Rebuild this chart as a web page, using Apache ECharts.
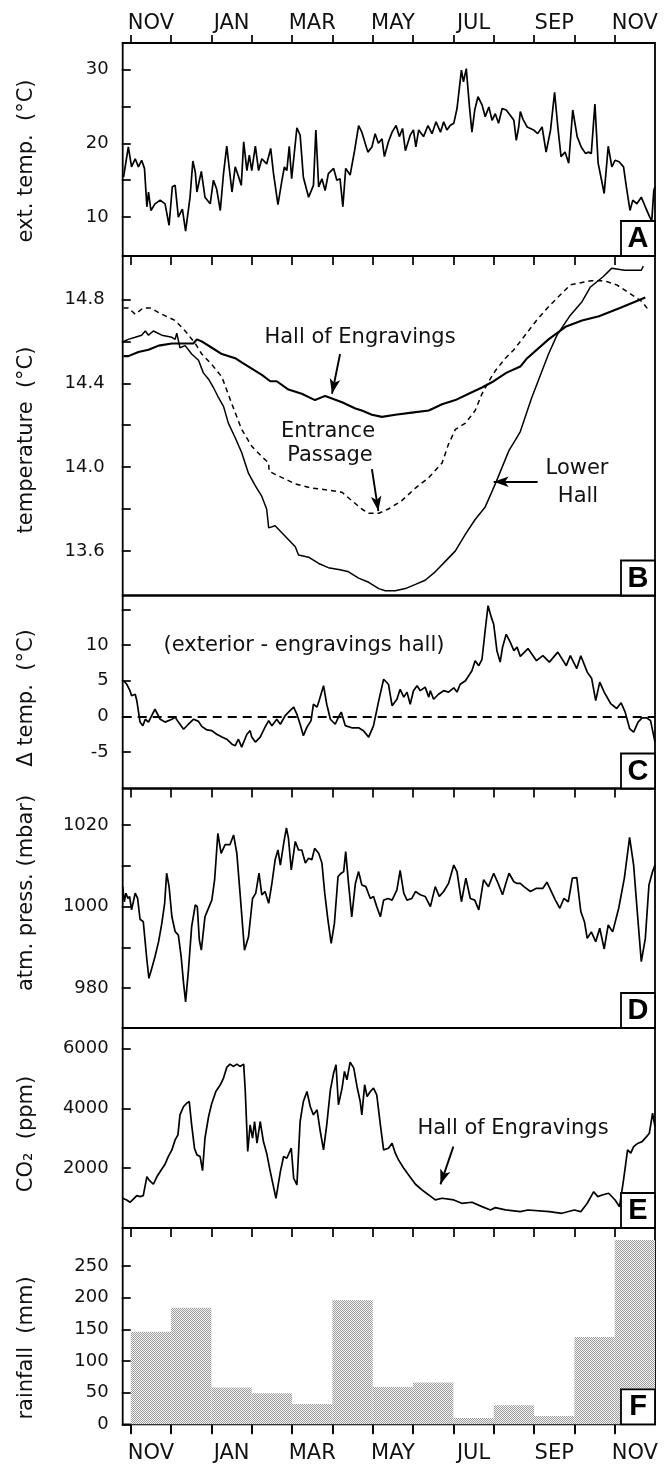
<!DOCTYPE html>
<html>
<head>
<meta charset="utf-8">
<title>Cave climate record</title>
<script src="https://cdn.jsdelivr.net/npm/echarts@6.0.0/dist/echarts.min.js"></script>
<style>
html, body { margin: 0; padding: 0; background: #fff; }
#chart { width: 664px; height: 1468px; }
</style>
</head>
<body>
<div id="chart"></div>
<script>
// x is in months counted from 1 Nov (0) to 1 Dec of the next year (13)
var monthTicks = [0, 1, 2, 3, 4, 5, 6, 7, 8, 9, 10, 11, 12];
var monthLabelPos = [0.5, 2.5, 4.5, 6.5, 8.5, 10.5, 12.5];
var monthNames = ['NOV', 'JAN', 'MAR', 'MAY', 'JUL', 'SEP', 'NOV'];

// A: exterior temperature (°C)
var extTemp = [[-0.18,15.4],[-0.06,19.5],[0.02,16.8],[0.11,17.9],[0.19,16.8],[0.27,17.7],[0.34,16.6],[0.40,11.4],[0.44,13.4],[0.50,10.9],[0.60,11.8],[0.73,12.3],[0.85,11.8],[0.95,8.9],[1.03,14.1],[1.10,14.3],[1.18,10.0],[1.28,11.1],[1.36,8.1],[1.47,12.7],[1.54,17.6],[1.60,16.1],[1.64,13.4],[1.75,16.2],[1.84,12.7],[1.97,11.8],[2.05,15.0],[2.13,13.8],[2.22,10.9],[2.30,15.9],[2.38,19.6],[2.51,13.4],[2.59,16.8],[2.66,15.7],[2.74,14.3],[2.80,20.2],[2.88,16.3],[2.94,18.4],[3.00,16.3],[3.09,19.6],[3.17,16.3],[3.25,17.9],[3.37,17.2],[3.47,19.3],[3.54,15.9],[3.65,11.7],[3.75,15.0],[3.81,16.8],[3.87,16.3],[3.93,19.6],[3.99,15.2],[4.12,22.1],[4.20,21.1],[4.28,15.4],[4.41,12.7],[4.53,14.3],[4.59,21.8],[4.66,14.1],[4.74,15.2],[4.82,13.6],[4.90,15.9],[5.03,16.6],[5.11,15.0],[5.19,15.2],[5.26,11.4],[5.33,16.6],[5.44,15.7],[5.55,19.0],[5.65,22.4],[5.73,21.5],[5.88,18.8],[5.98,19.5],[6.06,21.3],[6.14,20.0],[6.23,20.6],[6.29,18.2],[6.39,20.2],[6.48,21.5],[6.58,22.4],[6.66,20.9],[6.74,22.0],[6.81,19.0],[6.93,21.1],[7.01,21.8],[7.07,19.5],[7.14,21.8],[7.26,20.9],[7.37,22.4],[7.47,21.3],[7.57,22.9],[7.68,21.5],[7.76,22.9],[7.84,21.8],[7.92,22.4],[8.01,22.7],[8.09,24.7],[8.20,29.9],[8.25,28.3],[8.32,30.1],[8.40,24.9],[8.46,21.5],[8.53,24.5],[8.61,26.3],[8.71,25.2],[8.79,23.6],[8.88,24.9],[8.96,23.1],[9.04,24.0],[9.12,22.7],[9.21,24.7],[9.31,24.5],[9.41,23.8],[9.50,23.1],[9.56,20.4],[9.62,22.2],[9.66,24.3],[9.73,23.2],[9.83,22.2],[9.99,21.8],[10.09,21.3],[10.20,22.2],[10.30,18.8],[10.41,21.8],[10.51,26.9],[10.59,22.2],[10.67,18.2],[10.77,18.8],[10.86,17.3],[10.96,24.5],[11.07,20.9],[11.17,19.5],[11.28,18.6],[11.35,18.8],[11.42,18.6],[11.51,25.3],[11.59,17.3],[11.66,15.4],[11.74,13.2],[11.84,19.6],[11.93,16.8],[12.01,17.7],[12.11,17.5],[12.22,16.8],[12.29,14.1],[12.38,10.9],[12.45,12.3],[12.55,11.8],[12.66,12.7],[12.76,11.4],[12.87,10.0],[12.92,9.5],[12.97,13.6],[13.00,14.1]];

// B: cave temperatures (°C)
var hallEngravings = [[-0.18,14.53],[-0.06,14.53],[0.19,14.55],[0.44,14.56],[0.69,14.58],[1.02,14.59],[1.35,14.59],[1.55,14.59],[1.64,14.61],[1.76,14.60],[2.01,14.57],[2.26,14.54],[2.59,14.52],[2.75,14.50],[3.00,14.47],[3.25,14.44],[3.46,14.41],[3.62,14.41],[3.91,14.37],[4.24,14.35],[4.57,14.32],[4.82,14.34],[5.24,14.31],[5.57,14.28],[5.73,14.27],[5.98,14.25],[6.23,14.24],[6.56,14.25],[6.97,14.26],[7.39,14.27],[7.72,14.30],[8.05,14.32],[8.38,14.35],[8.71,14.38],[9.00,14.41],[9.31,14.45],[9.66,14.48],[9.83,14.52],[10.36,14.61],[10.78,14.67],[11.19,14.70],[11.61,14.72],[12.13,14.76],[12.76,14.81]];
var lowerHall = [[-0.18,14.60],[-0.06,14.61],[0.11,14.62],[0.27,14.63],[0.36,14.65],[0.44,14.63],[0.56,14.65],[0.77,14.63],[1.02,14.62],[1.10,14.61],[1.14,14.64],[1.22,14.57],[1.35,14.58],[1.51,14.54],[1.68,14.51],[1.80,14.45],[1.93,14.42],[2.05,14.38],[2.18,14.33],[2.30,14.29],[2.42,14.21],[2.59,14.14],[2.75,14.07],[2.92,13.97],[3.09,13.91],[3.25,13.86],[3.37,13.80],[3.42,13.71],[3.58,13.72],[3.83,13.67],[4.08,13.62],[4.16,13.58],[4.41,13.57],[4.66,13.54],[4.90,13.52],[5.19,13.51],[5.40,13.50],[5.65,13.47],[5.90,13.45],[6.15,13.42],[6.31,13.41],[6.56,13.41],[6.81,13.42],[7.06,13.44],[7.30,13.46],[7.55,13.50],[7.80,13.55],[8.05,13.60],[8.30,13.68],[8.54,13.75],[8.79,13.81],[9.04,13.92],[9.21,14.00],[9.38,14.08],[9.54,14.13],[9.66,14.17],[9.94,14.33],[10.36,14.54],[10.57,14.63],[10.88,14.72],[11.19,14.79],[11.40,14.86],[11.72,14.91],[11.93,14.95],[12.24,14.94],[12.66,14.94],[12.71,14.96]];
var entrancePassage = [[-0.18,14.76],[-0.06,14.76],[0.11,14.73],[0.31,14.76],[0.48,14.76],[0.77,14.73],[1.10,14.70],[1.35,14.65],[1.60,14.59],[1.76,14.54],[2.01,14.49],[2.26,14.43],[2.51,14.30],[2.75,14.18],[3.00,14.10],[3.25,14.05],[3.42,14.02],[3.43,13.98],[3.75,13.95],[4.08,13.92],[4.49,13.90],[4.90,13.89],[5.24,13.88],[5.48,13.84],[5.73,13.80],[5.90,13.78],[6.15,13.78],[6.39,13.80],[6.72,13.84],[7.06,13.90],[7.39,13.95],[7.72,14.02],[7.88,14.11],[8.05,14.18],[8.30,14.21],[8.54,14.27],[8.71,14.35],[8.88,14.41],[9.04,14.46],[9.29,14.52],[9.50,14.56],[9.66,14.60],[10.06,14.70],[10.38,14.77],[10.90,14.87],[11.42,14.89],[11.74,14.89],[12.05,14.87],[12.37,14.83],[12.68,14.79],[12.84,14.75]];

// C: exterior minus engravings hall (°C)
var deltaTemp = [[-0.18,5.0],[-0.10,4.5],[-0.02,3.6],[0.02,2.9],[0.11,3.1],[0.15,2.2],[0.23,-0.8],[0.30,-1.3],[0.36,-0.4],[0.44,-0.8],[0.50,-0.1],[0.60,1.0],[0.73,-0.4],[0.85,-0.8],[1.02,-0.4],[1.10,-0.1],[1.18,-0.8],[1.31,-1.8],[1.43,-1.1],[1.56,-0.4],[1.68,-0.7],[1.76,-1.4],[1.89,-1.9],[2.01,-2.0],[2.13,-2.5],[2.26,-2.9],[2.38,-3.2],[2.51,-3.9],[2.59,-4.1],[2.67,-3.2],[2.75,-4.3],[2.88,-2.5],[2.96,-2.0],[3.00,-2.9],[3.09,-3.6],[3.21,-2.9],[3.33,-1.5],[3.42,-0.6],[3.50,-1.3],[3.62,-0.4],[3.71,-1.1],[3.83,0.1],[3.95,0.8],[4.04,1.3],[4.12,0.3],[4.20,-1.1],[4.28,-2.7],[4.37,-1.5],[4.47,-0.6],[4.53,1.7],[4.62,1.3],[4.67,2.2],[4.78,4.3],[4.86,1.7],[4.95,-0.4],[5.07,-1.1],[5.15,-0.1],[5.22,0.6],[5.32,-1.3],[5.48,-1.6],[5.65,-1.6],[5.77,-2.0],[5.90,-2.9],[6.02,-1.3],[6.15,2.2],[6.27,5.2],[6.39,4.5],[6.48,1.5],[6.60,2.4],[6.68,3.8],[6.77,2.7],[6.85,3.4],[6.93,1.7],[7.01,3.6],[7.10,4.3],[7.18,3.6],[7.30,4.1],[7.39,2.7],[7.43,3.6],[7.51,2.4],[7.63,3.1],[7.76,3.6],[7.88,3.4],[8.01,4.0],[8.09,3.4],[8.17,4.5],[8.30,5.0],[8.38,5.7],[8.46,6.4],[8.54,7.8],[8.63,7.1],[8.71,8.0],[8.79,12.1],[8.86,15.5],[8.94,13.9],[9.00,12.9],[9.08,9.2],[9.16,7.6],[9.22,9.7],[9.31,11.5],[9.41,10.4],[9.50,9.2],[9.58,9.7],[9.66,8.4],[9.85,9.5],[10.06,7.8],[10.22,8.5],[10.38,7.6],[10.59,9.0],[10.80,7.1],[10.90,8.5],[11.06,6.7],[11.16,8.5],[11.32,6.2],[11.43,5.3],[11.53,2.2],[11.63,4.8],[11.74,3.4],[11.90,1.8],[12.05,1.1],[12.16,1.9],[12.26,0.6],[12.37,-1.7],[12.47,-2.2],[12.58,-0.8],[12.68,-0.2],[12.79,-0.2],[12.89,-0.6],[13.00,-3.6]];

// D: atmospheric pressure (mbar)
var pressure = [[-0.20,1004.9],[-0.16,1001.2],[-0.12,1003.3],[-0.07,1002.0],[-0.03,1002.5],[0.02,999.2],[0.11,1003.3],[0.17,1002.0],[0.23,996.9],[0.31,996.3],[0.40,986.9],[0.45,982.4],[0.52,984.8],[0.60,987.7],[0.69,991.4],[0.77,995.9],[0.84,1000.8],[0.89,1008.2],[0.95,1004.9],[1.02,997.5],[1.10,993.9],[1.18,993.0],[1.25,987.7],[1.31,981.1],[1.36,976.6],[1.43,984.4],[1.51,995.1],[1.60,1000.4],[1.65,1000.0],[1.70,991.8],[1.75,989.3],[1.84,997.5],[1.91,999.2],[2.01,1001.6],[2.08,1006.6],[2.16,1018.0],[2.24,1013.1],[2.34,1015.2],[2.46,1015.2],[2.55,1017.6],[2.63,1013.1],[2.71,1003.3],[2.82,989.3],[2.92,992.6],[3.02,1002.0],[3.10,1003.3],[3.18,1008.2],[3.25,1002.9],[3.33,1003.7],[3.42,1000.8],[3.50,1005.7],[3.58,1011.5],[3.65,1013.9],[3.71,1010.2],[3.80,1016.0],[3.86,1019.3],[3.91,1016.8],[3.98,1009.0],[4.08,1016.0],[4.16,1013.9],[4.24,1013.9],[4.33,1010.7],[4.41,1011.9],[4.49,1011.5],[4.56,1014.3],[4.66,1013.1],[4.74,1010.7],[4.81,1003.3],[4.89,996.7],[4.97,991.0],[5.05,995.9],[5.14,1007.4],[5.22,1008.2],[5.28,1008.6],[5.33,1013.5],[5.40,1005.7],[5.48,997.5],[5.57,1005.7],[5.65,1008.6],[5.73,1005.3],[5.83,1004.9],[5.94,1002.0],[6.02,1002.5],[6.10,1000.0],[6.19,997.5],[6.27,1001.6],[6.38,1002.0],[6.48,1001.6],[6.60,1004.1],[6.68,1008.9],[6.77,1003.3],[6.85,1001.6],[6.97,1002.0],[7.06,1003.7],[7.18,1002.9],[7.30,1002.5],[7.43,1000.0],[7.55,1004.9],[7.65,1002.5],[7.76,1003.7],[7.88,1005.7],[8.01,1010.2],[8.09,1008.6],[8.20,1001.2],[8.31,1007.0],[8.42,1002.0],[8.53,1001.6],[8.63,999.2],[8.75,1006.6],[8.87,1004.9],[9.00,1008.2],[9.11,1005.7],[9.22,1002.9],[9.30,1005.7],[9.38,1008.2],[9.50,1006.1],[9.58,1005.7],[9.66,1005.7],[9.75,1004.9],[9.91,1003.7],[10.06,1004.5],[10.22,1004.5],[10.32,1006.0],[10.43,1003.7],[10.53,1001.6],[10.64,999.6],[10.74,1002.0],[10.85,1001.2],[10.95,1007.0],[11.06,1007.1],[11.16,998.8],[11.25,996.3],[11.32,992.2],[11.42,993.8],[11.53,991.4],[11.63,994.7],[11.74,989.6],[11.84,995.5],[11.95,993.8],[12.10,999.6],[12.24,1007.0],[12.37,1017.0],[12.47,1010.2],[12.56,998.8],[12.66,986.5],[12.76,992.2],[12.85,1005.3],[12.94,1008.6],[13.00,1010.2]];

// E: CO2 in the Hall of Engravings (ppm)
var co2 = [[-0.20,995],[-0.10,939],[-0.02,861],[0.07,972],[0.15,1084],[0.23,1050],[0.31,1084],[0.40,1721],[0.45,1609],[0.56,1464],[0.65,1721],[0.73,1888],[0.85,2134],[0.93,2391],[1.02,2614],[1.10,2949],[1.17,3117],[1.22,3787],[1.31,4067],[1.39,4178],[1.45,4234],[1.51,3452],[1.58,2670],[1.64,2447],[1.72,2391],[1.78,1922],[1.84,3005],[1.93,3731],[2.01,4178],[2.11,4569],[2.22,4793],[2.30,5016],[2.38,5373],[2.46,5485],[2.55,5407],[2.63,5485],[2.71,5407],[2.80,5485],[2.84,4569],[2.90,2559],[2.96,3452],[3.02,3005],[3.07,3564],[3.13,2838],[3.21,3564],[3.29,2894],[3.37,2503],[3.46,1888],[3.60,995],[3.71,1888],[3.79,2391],[3.87,2335],[3.98,2670],[4.04,1665],[4.12,1441],[4.20,3564],[4.28,4234],[4.37,4569],[4.45,4067],[4.53,3787],[4.62,3955],[4.70,3229],[4.78,2614],[4.86,3452],[4.95,4625],[5.03,5184],[5.09,5463],[5.15,4123],[5.24,4681],[5.30,5240],[5.36,4960],[5.44,5552],[5.53,5351],[5.61,4737],[5.69,4234],[5.73,3787],[5.80,4793],[5.86,4402],[5.94,4569],[6.02,4681],[6.10,4458],[6.19,3452],[6.27,2614],[6.39,2670],[6.48,2838],[6.56,2503],[6.64,2279],[6.77,2000],[6.89,1777],[7.06,1464],[7.22,1274],[7.39,1106],[7.55,939],[7.72,995],[8.01,939],[8.21,827],[8.46,861],[8.71,715],[8.92,604],[9.04,682],[9.29,604],[9.66,548],[9.85,603],[10.38,546],[10.69,492],[11.00,603],[11.16,546],[11.32,828],[11.48,1216],[11.58,1049],[11.69,1106],[11.85,1162],[12.01,938],[12.12,714],[12.22,1608],[12.32,2613],[12.40,2503],[12.47,2724],[12.58,2838],[12.68,2891],[12.79,3059],[12.86,3172],[12.94,3843],[13.00,3394]];

// F: monthly rainfall (mm), one bar per month starting at rainStart
var rainStart = [0, 1, 2, 3, 4, 5, 6, 7, 8, 9, 10, 11, 12];
var rainfall = [146, 184, 58, 49, 32, 196, 59, 66, 10, 30, 13, 138, 291];

var FONT = '"DejaVu Sans", sans-serif';
var INK = '#111';

// panel frames (pixels)
var panels = [
  { top: 43, height: 213 },
  { top: 256, height: 339.5 },
  { top: 595.5, height: 193 },
  { top: 788.5, height: 239.5 },
  { top: 1028, height: 200 },
  { top: 1228, height: 196.3 }
];
var LEFT = 122.7, RIGHT = 9;

var chart = echarts.init(document.getElementById('chart'), null, { renderer: 'canvas' });

// stippled fill for the rainfall bars
var stipple = document.createElement('canvas');
stipple.width = 2; stipple.height = 2;
var sctx = stipple.getContext('2d');
sctx.fillStyle = '#f4f4f4'; sctx.fillRect(0, 0, 2, 2);
sctx.fillStyle = '#9c9c9c'; sctx.fillRect(0, 0, 1, 1); sctx.fillRect(1, 1, 1, 1);

var grids = panels.map(function (p) {
  return {
    left: LEFT, right: RIGHT, top: p.top, height: p.height,
    show: true, borderColor: '#000', borderWidth: 1.8, backgroundColor: 'transparent',
    containLabel: false
  };
});

function xAxis(gridIndex, position, tickInside, tickLen, showTick, withLabels, labelMargin) {
  return {
    type: 'value', gridIndex: gridIndex, position: position,
    min: -0.2, max: 13,
    axisLine: { show: false },
    splitLine: { show: false },
    axisTick: {
      show: showTick, inside: tickInside, length: tickLen,
      customValues: monthTicks,
      lineStyle: { color: '#000', width: 1.7 }
    },
    axisLabel: {
      show: withLabels, margin: labelMargin,
      customValues: monthLabelPos,
      formatter: function (v) { return monthNames[Math.floor(v / 2)]; },
      color: INK, fontSize: 21, fontFamily: FONT
    }
  };
}

function yAxis(gridIndex, min, max, ticks, labels, fmt, margin) {
  return {
    type: 'value', gridIndex: gridIndex, min: min, max: max,
    axisLine: { show: false },
    splitLine: { show: false },
    axisTick: {
      show: true, inside: false, length: 9,
      customValues: ticks,
      lineStyle: { color: '#000', width: 1.7 }
    },
    axisLabel: {
      margin: margin || 14,
      customValues: labels,
      formatter: fmt || function (v) { return String(v); },
      color: INK, fontSize: 18, fontFamily: FONT
    }
  };
}

function lineSeries(data, xi, yi, style, extra) {
  var s = {
    type: 'line', data: data, xAxisIndex: xi, yAxisIndex: yi,
    showSymbol: false, symbol: 'none', smooth: false, clip: true,
    lineStyle: style, silent: true, animation: false
  };
  for (var k in extra) s[k] = extra[k];
  return s;
}

var arrowLine = {
  silent: true, animation: false,
  symbol: ['none', 'arrow'], symbolSize: [8, 15],
  label: { show: false },
  lineStyle: { color: '#000', width: 1.9, type: 'solid' }
};
function arrows(list) {
  var m = {};
  for (var k in arrowLine) m[k] = arrowLine[k];
  m.data = list.map(function (a) { return [{ coord: a[0] }, { coord: a[1] }]; });
  return m;
}

var titles = [
  { text: 'ext. temp.  (°C)', y: 161 },
  { text: 'temperature  (°C)', y: 440 },
  { text: 'Δ temp.  (°C)', y: 698 },
  { text: 'atm. press. (mbar)', y: 893 },
  { text: 'CO₂  (ppm)', y: 1134 },
  { text: 'rainfall  (mm)', y: 1348 }
];
var letters = ['A', 'B', 'C', 'D', 'E', 'F'];

var graphic = [];
titles.forEach(function (t) {
  graphic.push({
    type: 'text', x: 27, y: t.y, rotation: Math.PI / 2, z: 20,
    style: { text: t.text, fill: INK, font: '21px ' + FONT, align: 'center', verticalAlign: 'middle' }
  });
});
panels.forEach(function (p, i) {
  var bottom = p.top + p.height;
  graphic.push({
    type: 'rect', z: 20,
    shape: { x: 621, y: bottom - 35, width: 34, height: 35 },
    style: { fill: '#fff', stroke: '#000', lineWidth: 1.8 }
  });
  graphic.push({
    type: 'text', x: 638, y: bottom - 17, z: 21,
    style: { text: letters[i], fill: '#000', font: 'bold 29px "Liberation Sans", Arial, sans-serif', align: 'center', verticalAlign: 'middle' }
  });
});
function note(text, x, y) {
  graphic.push({
    type: 'text', x: x, y: y, z: 20,
    style: { text: text, fill: INK, font: '21px ' + FONT, align: 'center', verticalAlign: 'middle' }
  });
}
note('Hall of Engravings', 360, 338);
note('Entrance', 328, 432);
note('Passage', 330, 456);
note('Lower', 577, 469);
note('Hall', 578, 497);
note('(exterior - engravings hall)', 304, 646);
note('Hall of Engravings', 513, 1129);

var option = {
  animation: false,
  backgroundColor: '#fff',
  grid: grids,
  xAxis: [
    xAxis(0, 'top', false, 8, true, true, 9),
    xAxis(1, 'top', true, 9, true, false, 0),
    xAxis(2, 'top', true, 9, false, false, 0),
    xAxis(3, 'top', true, 9, true, false, 0),
    xAxis(4, 'top', true, 9, true, false, 0),
    xAxis(5, 'top', true, 9, true, false, 0),
    xAxis(5, 'bottom', false, 10, true, true, 19)
  ],
  yAxis: [
    yAxis(0, 4.74, 33.57, [10, 15, 20, 25, 30, 33.57], [10, 20, 30]),
    yAxis(1, 13.387, 15.008, [13.6, 13.8, 14.0, 14.2, 14.4, 14.6, 14.8], [13.6, 14.0, 14.4, 14.8],
      function (v) { return v.toFixed(1); }, 18),
    yAxis(2, -10.1, 16.93, [-5, 0, 5, 10, 15], [-5, 0, 5, 10]),
    yAxis(3, 970.2, 1029.0, [980, 990, 1000, 1010, 1020], [980, 1000, 1020]),
    yAxis(4, 0, 6693, [2000, 4000, 6000, 6693], [2000, 4000, 6000]),
    yAxis(5, 0, 310, [0, 50, 100, 150, 200, 250, 310], [0, 50, 100, 150, 200, 250])
  ],
  graphic: graphic,
  series: [
    lineSeries(extTemp, 0, 0, { color: '#000', width: 1.7 }),
    lineSeries(hallEngravings, 1, 1, { color: '#000', width: 2.1 }, {
      markLine: arrows([
        [[5.19, 14.54], [4.99, 14.35]],
        [[5.98, 13.99], [6.14, 13.79]],
        [[10.09, 13.93], [9.0, 13.93]]
      ])
    }),
    lineSeries(lowerHall, 1, 1, { color: '#000', width: 1.5 }),
    lineSeries(entrancePassage, 1, 1, { color: '#000', width: 1.5, type: [5, 4] }),
    lineSeries(deltaTemp, 2, 2, { color: '#000', width: 1.7 }, {
      markLine: {
        silent: true, animation: false, symbol: ['none', 'none'],
        label: { show: false },
        lineStyle: { color: '#000', width: 1.9, type: [9, 6] },
        data: [{ yAxis: 0 }]
      }
    }),
    lineSeries(pressure, 3, 3, { color: '#000', width: 1.7 }),
    lineSeries(co2, 4, 4, { color: '#000', width: 1.7 }, {
      markLine: arrows([[[8.0, 2724], [7.68, 1460]]])
    }),
    {
      type: 'custom', xAxisIndex: 6, yAxisIndex: 5, silent: true, animation: false,
      data: rainfall.map(function (v, i) { return [rainStart[i], rainStart[i] + 1, v]; }),
      encode: { x: [0, 1], y: 2 },
      renderItem: function (params, api) {
        var p0 = api.coord([api.value(0), api.value(2)]);
        var p1 = api.coord([api.value(1), 0]);
        return {
          type: 'rect',
          shape: { x: p0[0], y: p0[1], width: p1[0] - p0[0], height: p1[1] - p0[1] },
          style: { fill: { image: stipple, repeat: 'repeat' } }
        };
      }
    }
  ]
};

chart.setOption(option);
</script>
</body>
</html>
